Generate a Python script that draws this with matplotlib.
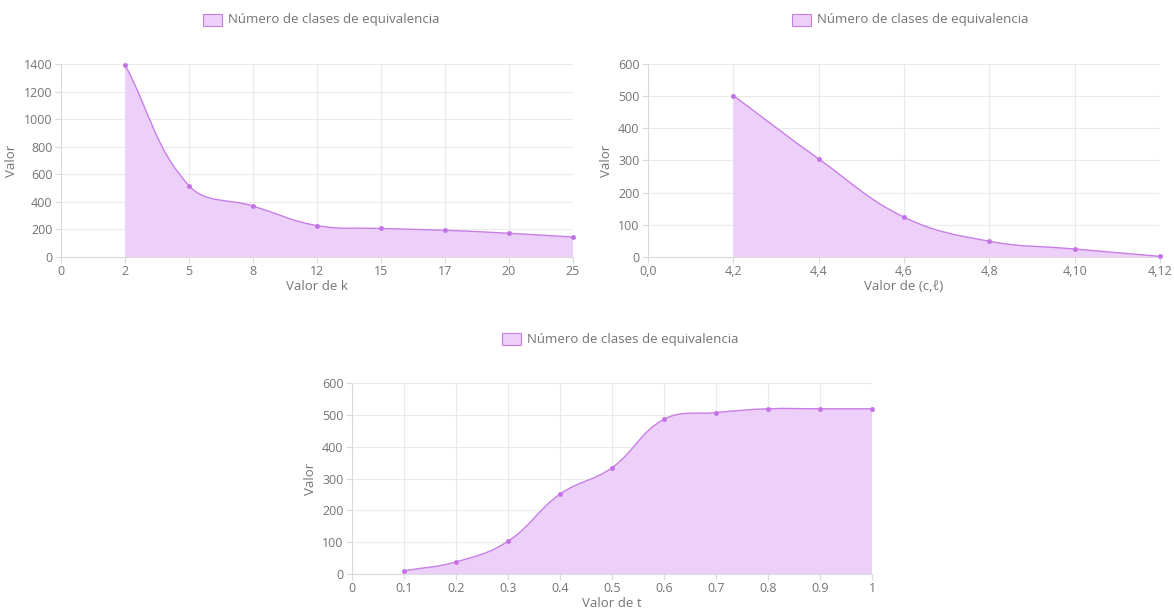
import matplotlib
matplotlib.use("Agg")
import matplotlib.pyplot as plt
from matplotlib.path import Path
from matplotlib.patches import PathPatch, Rectangle
import numpy as np

plt.rcParams['font.family'] = ['Open Sans', 'DejaVu Sans']

# ---- data ----
legend_label = "Número de clases de equivalencia"

k_labels = ["0", "2", "5", "8", "12", "15", "17", "20", "25"]
k_values = [None, 1395, 518, 370, 228, 207, 194, 172, 145]

cl_labels = ["0,0", "4,2", "4,4", "4,6", "4,8", "4,10", "4,12"]
cl_values = [None, 502, 305, 124, 49, 25, 2]

t_labels = ["0", "0.1", "0.2", "0.3", "0.4", "0.5", "0.6", "0.7", "0.8", "0.9", "1"]
t_values = [None, 10, 38, 103, 251, 334, 486, 507, 519, 519, 519]

FILL = '#EDD0FA'
LINE = '#C77FE6'
TEXT = '#747474'
GRID = '#EBEBEB'

fig = plt.figure(figsize=(11.74, 6.11), dpi=100)


def spline_path(ax, xs, ys, tension=0.4):
    # Chart.js-like cubic spline, computed in display space
    trans = ax.transData
    pts = trans.transform(np.column_stack([xs, ys]))
    n = len(pts)
    verts = [pts[0]]
    codes = [Path.MOVETO]
    cps = []
    for i in range(n):
        prev = pts[i - 1] if i > 0 else pts[i]
        cur = pts[i]
        nxt = pts[i + 1] if i < n - 1 else pts[i]
        d01 = np.hypot(*(cur - prev))
        d12 = np.hypot(*(nxt - cur))
        tot = d01 + d12
        s01 = d01 / tot if tot else 0
        s12 = d12 / tot if tot else 0
        fa = tension * s01
        fb = tension * s12
        cps.append((cur - fa * (nxt - prev), cur + fb * (nxt - prev)))
    for i in range(1, n):
        verts += [cps[i - 1][1], cps[i][0], pts[i]]
        codes += [Path.CURVE4] * 3
    inv = trans.inverted()
    return inv.transform(np.array(verts)), codes


def make_chart(rect, labels, values, ymax, ystep, xlabel, legend_xy):
    ax = fig.add_axes(rect)
    x = np.arange(len(labels))
    ax.set_xlim(0, len(labels) - 1)
    ax.set_ylim(0, ymax)
    ax.set_xticks(x)
    ax.set_xticklabels(labels)
    ax.set_yticks(np.arange(0, ymax + 1, ystep))
    ax.grid(True, color=GRID, linewidth=0.8)
    ax.set_axisbelow(True)
    for s in ['top', 'right']:
        ax.spines[s].set_visible(False)
    for s in ['left', 'bottom']:
        ax.spines[s].set_color('#DADADA')
        ax.spines[s].set_linewidth(0.8)
    ax.tick_params(colors=TEXT, labelsize=9, length=4, width=0.8, pad=2)
    ax.tick_params(axis='both', color='#DADADA')
    ax.set_xlabel(xlabel, color=TEXT, fontsize=9.5, labelpad=1)
    ax.set_ylabel("Valor", color=TEXT, fontsize=9.5, labelpad=4)

    xs = np.array([xi for xi, v in zip(x, values) if v is not None], dtype=float)
    ys = np.array([v for v in values if v is not None], dtype=float)
    fig.canvas.draw()
    verts, codes = spline_path(ax, xs, ys)
    # fill
    fverts = list(verts) + [(xs[-1], 0), (xs[0], 0), verts[0]]
    fcodes = list(codes) + [Path.LINETO, Path.LINETO, Path.CLOSEPOLY]
    ax.add_patch(PathPatch(Path(fverts, fcodes), facecolor=FILL, edgecolor='none', zorder=2))
    ax.add_patch(PathPatch(Path(verts, codes), facecolor='none', edgecolor=LINE, linewidth=1.0, zorder=3))
    ax.plot(xs, ys, 'o', color=LINE, markersize=3, markeredgewidth=0.6,
            markerfacecolor='#C46FE6', zorder=4, clip_on=False)

    # legend
    lx, ly = legend_xy
    fig.patches.append(Rectangle((lx / 1174, 1 - (ly + 6) / 611), 19 / 1174, 12 / 611,
                                 transform=fig.transFigure, facecolor=FILL,
                                 edgecolor=LINE, linewidth=0.8))
    fig.text((lx + 25) / 1174, 1 - ly / 611, legend_label, color=TEXT, fontsize=9.5,
             va='center', ha='left')
    return ax


make_chart([61 / 1174, 1 - 257 / 611, 512 / 1174, 193 / 611], k_labels, k_values,
           1400, 200, "Valor de k", (203, 20))
make_chart([648 / 1174, 1 - 257 / 611, 512 / 1174, 193 / 611], cl_labels, cl_values,
           600, 100, "Valor de (c,ℓ)", (792, 20))
make_chart([352 / 1174, 1 - 574 / 611, 520 / 1174, 191 / 611], t_labels, t_values,
           600, 100, "Valor de t", (502, 339))

fig.savefig("out.png", dpi=100)
